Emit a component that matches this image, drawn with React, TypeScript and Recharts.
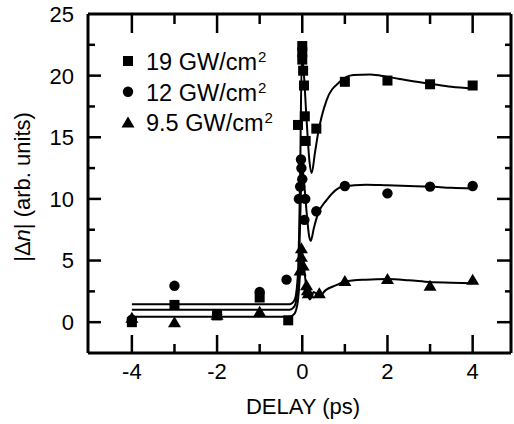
import React from 'react';
import { ComposedChart, Line, Scatter, XAxis, YAxis } from 'recharts';

const FONT = '"Liberation Sans", Arial, Helvetica, sans-serif';

// measured points, delay (ps) vs |Δn|
const delay19 = [-4, -3, -2, -1, -0.33, -0.1, 0, 0, 0, 0.02, 0.04, 0.06, 0.08, 0.33, 1, 2, 3, 4];
const signal19 = [0.0, 1.4, 0.55, 2.0, 0.15, 16.0, 22.4, 21.9, 21.3, 20.4, 19.2, 16.7, 14.7, 15.7, 19.5, 19.6, 19.3, 19.2];

const delay12 = [-4, -3, -2, -1, -0.37, -0.03, -0.02, 0, -0.05, 0.07, -0.08, 0.05, 0.33, 1, 2, 3, 4];
const signal12 = [0.2, 2.95, 0.65, 2.45, 3.45, 13.2, 12.5, 11.6, 11.0, 10.0, 10.0, 8.3, 9.0, 11.05, 10.45, 11.0, 11.05];

const delay95 = [-4, -3, -2, -1, -0.02, -0.02, 0.02, -0.05, 0.1, 0.14, 0.12, 0.4, 1, 2, 3, 4];
const signal95 = [0.35, 0.0, 0.6, 0.85, 6.0, 5.3, 4.6, 4.2, 3.0, 2.35, 2.6, 2.35, 3.35, 3.5, 2.95, 3.45];

// fitted curves
const fitDelay19 = [-4, -0.3, -0.18, -0.1, -0.05, -0.01, 0.03, 0.1, 0.17, 0.22, 0.3, 0.37, 0.57, 0.88, 1.2, 1.6, 2, 2.5, 3, 3.5, 4];
const fitSignal19 = [1.45, 1.45, 1.8, 4, 12, 21.6, 20.5, 16.5, 13, 12.1, 13.8, 15.3, 18.0, 19.5, 20.05, 20.1, 19.9, 19.6, 19.35, 19.1, 18.95];

const fitDelay12 = [-4, -0.3, -0.18, -0.1, -0.05, -0.01, 0.03, 0.1, 0.16, 0.2, 0.27, 0.37, 0.57, 0.95, 1.5, 2, 2.5, 3, 3.5, 4];
const fitSignal12 = [1.0, 1.0, 1.3, 3, 8, 12.8, 11.8, 9, 7.0, 6.6, 7.6, 8.8, 9.9, 11.0, 11.15, 11.1, 11.05, 11.0, 10.9, 10.85];

const fitDelay95 = [-4, -0.3, -0.18, -0.1, -0.05, -0.01, 0.04, 0.1, 0.18, 0.27, 0.4, 0.55, 0.8, 1, 1.5, 2, 2.5, 3, 3.5, 4];
const fitSignal95 = [0.45, 0.45, 0.7, 1.8, 4, 5.8, 4.5, 2.7, 1.85, 2.45, 2.1, 2.6, 3.0, 3.3, 3.45, 3.5, 3.4, 3.25, 3.2, 3.15];

const xTicks = [-4, -3, -2, -1, 0, 1, 2, 3, 4];
const yTicks = [-2.5, 0, 2.5, 5, 7.5, 10, 12.5, 15, 17.5, 20, 22.5, 25];

const legendLabels = ['19 GW/cm', '12 GW/cm', '9.5 GW/cm'];

const X_DOMAIN: [number, number] = [-5.03, 4.9];
const Y_DOMAIN: [number, number] = [-2.5, 25];

const zip = (xs: number[], ys: number[]) => xs.map((x, i) => ({ x, y: ys[i] }));

const points19 = zip(delay19, signal19);
const points12 = zip(delay12, signal12);
const points95 = zip(delay95, signal95);
const fit19 = zip(fitDelay19, fitSignal19);
const fit12 = zip(fitDelay12, fitSignal12);
const fit95 = zip(fitDelay95, fitSignal95);

const SquareDot = (p: any) => <rect x={p.cx - 5} y={p.cy - 5} width={10} height={10} fill="#000" />;
const CircleDot = (p: any) => <circle cx={p.cx} cy={p.cy} r={5.2} fill="#000" />;
const TriangleDot = (p: any) => (
  <polygon points={`${p.cx},${p.cy - 6} ${p.cx + 6.5},${p.cy + 5} ${p.cx - 6.5},${p.cy + 5}`} fill="#000" />
);

const isMajorX = (v: number) => v % 2 === 0;
const isMajorY = (v: number) => v >= 0 && v % 5 === 0;

const BottomTick = ({ x, y, payload }: any) => {
  const major = isMajorX(payload.value);
  return (
    <g>
      <line x1={x} x2={x} y1={y} y2={y - (major ? 18 : 9)} stroke="#000" strokeWidth={2.5} />
      {major && (
        <text x={x} y={y + 26} textAnchor="middle" fontSize={22} fontFamily={FONT} fill="#000">
          {payload.value}
        </text>
      )}
    </g>
  );
};

const TopTick = ({ x, y, payload }: any) => {
  const major = isMajorX(payload.value);
  return <line x1={x} x2={x} y1={y} y2={y + (major ? 19 : 10)} stroke="#000" strokeWidth={2.5} />;
};

const LeftTick = ({ x, y, payload }: any) => {
  const major = isMajorY(payload.value);
  return (
    <g>
      {payload.value > -2.5 && payload.value < 25 && (
        <line x1={x} x2={x + (major ? 13 : 7)} y1={y} y2={y} stroke="#000" strokeWidth={2.5} />
      )}
      {major && (
        <text x={x - 14} y={y} dy="0.36em" textAnchor="end" fontSize={22} fontFamily={FONT} fill="#000">
          {payload.value}
        </text>
      )}
    </g>
  );
};

const RightTick = ({ x, y, payload }: any) => {
  const major = isMajorY(payload.value);
  if (payload.value <= -2.5 || payload.value >= 25) return <g />;
  return <line x1={x} x2={x - (major ? 14 : 6)} y1={y} y2={y} stroke="#000" strokeWidth={2.5} />;
};

const legendShapes = [
  (cx: number, cy: number) => <rect x={cx - 5} y={cy - 5} width={10} height={10} fill="#000" />,
  (cx: number, cy: number) => <circle cx={cx} cy={cy} r={5.2} fill="#000" />,
  (cx: number, cy: number) => (
    <polygon points={`${cx},${cy - 6} ${cx + 6.5},${cy + 5} ${cx - 6.5},${cy + 5}`} fill="#000" />
  ),
];

export default function App() {
  const axisLine = { stroke: '#000', strokeWidth: 3 };
  return (
    <div style={{ position: 'absolute', left: 0, top: 0, width: 514, height: 424, background: '#fff' }}>
      <ComposedChart width={514} height={424} margin={{ top: 13, right: 2, bottom: 0, left: 0 }}>
        <XAxis
          dataKey="x"
          type="number"
          domain={X_DOMAIN}
          allowDataOverflow
          ticks={xTicks}
          interval={0}
          height={71}
          tickSize={0}
          tickMargin={0}
          tickLine={false}
          axisLine={axisLine}
          tick={<BottomTick />}
        />
        <XAxis
          xAxisId="top"
          dataKey="x"
          orientation="top"
          type="number"
          domain={X_DOMAIN}
          allowDataOverflow
          ticks={xTicks}
          interval={0}
          height={1}
          tickSize={0}
          tickMargin={0}
          tickLine={false}
          axisLine={axisLine}
          tick={<TopTick />}
        />
        <YAxis
          dataKey="y"
          type="number"
          domain={Y_DOMAIN}
          allowDataOverflow
          ticks={yTicks}
          interval={0}
          width={88}
          tickSize={0}
          tickMargin={0}
          tickLine={false}
          axisLine={axisLine}
          tick={<LeftTick />}
        />
        <YAxis
          yAxisId="right"
          dataKey="y"
          orientation="right"
          type="number"
          domain={Y_DOMAIN}
          allowDataOverflow
          ticks={yTicks}
          interval={0}
          width={1}
          tickSize={0}
          tickMargin={0}
          tickLine={false}
          axisLine={axisLine}
          tick={<RightTick />}
        />
        <Line data={fit19} dataKey="y" type="monotone" stroke="#000" strokeWidth={2} dot={false} isAnimationActive={false} />
        <Line data={fit12} dataKey="y" type="monotone" stroke="#000" strokeWidth={2} dot={false} isAnimationActive={false} />
        {/* same domains as the main axes; keeps the top/right frame axes in use */}
        <Line
          data={fit95}
          dataKey="y"
          xAxisId="top"
          yAxisId="right"
          type="monotone"
          stroke="#000"
          strokeWidth={2}
          dot={false}
          isAnimationActive={false}
        />
        <Scatter data={points19} shape={SquareDot} isAnimationActive={false} />
        <Scatter data={points12} shape={CircleDot} isAnimationActive={false} />
        <Scatter data={points95} shape={TriangleDot} isAnimationActive={false} />
      </ComposedChart>
      <svg
        width={514}
        height={424}
        style={{ position: 'absolute', left: 0, top: 0, pointerEvents: 'none' }}
        fontFamily={FONT}
      >
        {legendLabels.map((label, i) => {
          const cy = 61 + i * 30.7;
          return (
            <g key={label}>
              {legendShapes[i](128, cy)}
              <text x={146} y={cy + 9} fontSize={23.5} fill="#000">
                {label}
                <tspan fontSize={15} dy={-8} dx={1}>2</tspan>
              </text>
            </g>
          );
        })}
        <text x={303} y={414} textAnchor="middle" fontSize={22} fill="#000">
          DELAY (ps)
        </text>
        <text
          x={22}
          y={187}
          transform="rotate(-90 22 187)"
          textAnchor="middle"
          dy="0.36em"
          fontSize={22}
          fill="#000"
        >
          |Δ<tspan fontStyle="italic">n</tspan>| (arb. units)
        </text>
      </svg>
    </div>
  );
}
